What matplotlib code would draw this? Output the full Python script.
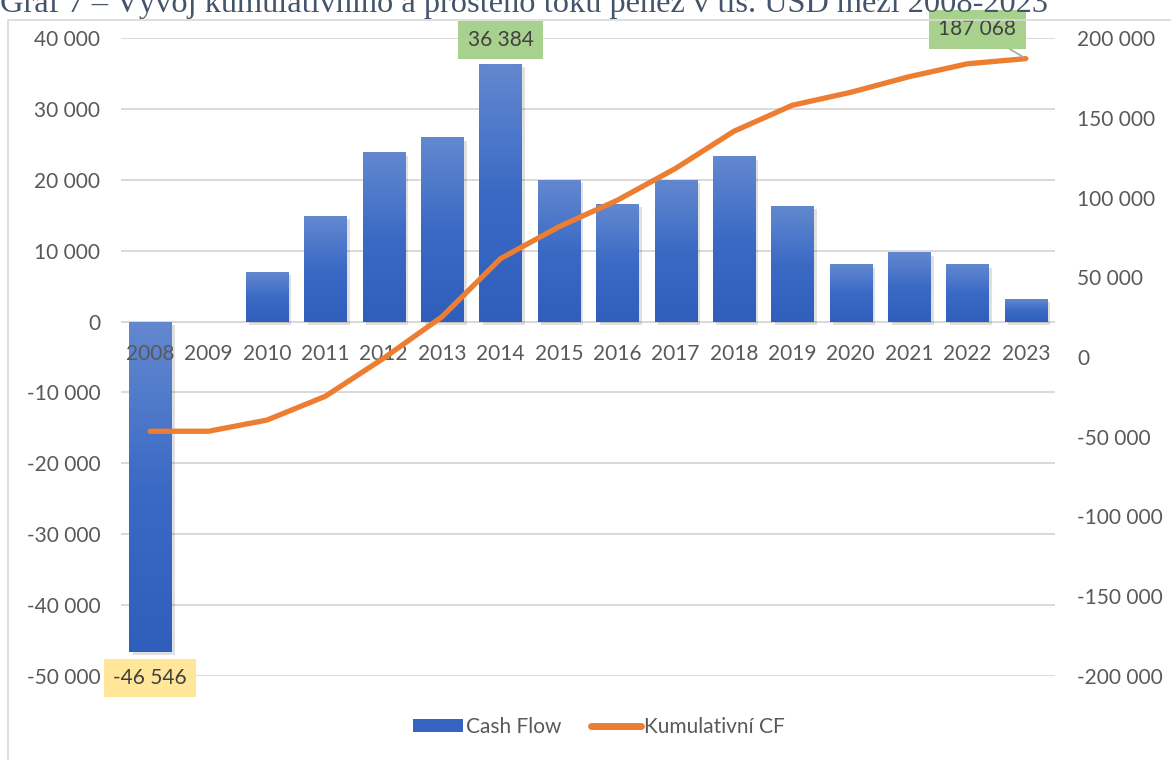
import numpy as np
import matplotlib
matplotlib.use('Agg')
import matplotlib.pyplot as plt
import matplotlib.patches as patches
import matplotlib.transforms as mtransforms
from matplotlib.colors import LinearSegmentedColormap
from matplotlib.lines import Line2D
from matplotlib.ticker import FuncFormatter

# data (tis. USD)
years = ['2008', '2009', '2010', '2011', '2012', '2013', '2014', '2015',
         '2016', '2017', '2018', '2019', '2020', '2021', '2022', '2023']
cash_flow = [-46546, 0, 7000, 14900, 23900, 26000, 36384, 20000,
             16600, 20000, 23300, 16300, 8100, 9800, 8100, 3230]
cumulative = np.cumsum(cash_flow)

left_ticks = [40000, 30000, 20000, 10000, 0, -10000, -20000, -30000, -40000, -50000]
right_ticks = [200000, 150000, 100000, 50000, 0, -50000, -100000, -150000, -200000]

title = 'Graf 7 – Vývoj kumulativního a prostého toku peněz v tis. USD mezi 2008-2023'

TEXT = '#595959'
GRID = '#D9D9D9'
ORANGE = '#ED7D31'
BAR_DARK = '#2F5FBB'
BAR_LIGHT = '#6388CF'
FONT = 'Lato'

plt.rcParams['font.family'] = [FONT, 'DejaVu Sans']


def fmt(v, pos=None):
    return f'{v:,.0f}'.replace(',', ' ')


fig = plt.figure(figsize=(11.71, 7.6), dpi=100, facecolor='white')

# chart frame
fig.patches.append(patches.Rectangle((8 / 1171, -0.01), 1.0, 1 - 20 / 760 + 0.01,
                                     transform=fig.transFigure, fill=False,
                                     edgecolor=GRID, linewidth=1.2, zorder=0))

# title, cut off at the top edge like in the source
fig.text(0.0, 1 - 12 / 760, title, ha='left', va='baseline',
         family='Liberation Serif', fontsize=23.3, color='#44546A')

ax = fig.add_axes([121 / 1171, 1 - 676 / 760, (1055 - 121) / 1171, (676 - 38) / 760])
ax2 = ax.twinx()

x = np.arange(len(years))
bars = ax.bar(x, cash_flow, width=0.72, color=BAR_DARK, zorder=2)

# gradient fill + soft shadow on the bars
cmap = LinearSegmentedColormap.from_list('bar', [BAR_DARK, '#3B6AC5', BAR_LIGHT])
grad = np.linspace(0, 1, 256).reshape(-1, 1)
shadow_tr = ax.transData + mtransforms.ScaledTranslation(2.5 / 72, -2.5 / 72, fig.dpi_scale_trans)
for rect in bars:
    x0, y0 = rect.get_xy()
    w, h = rect.get_width(), rect.get_height()
    if h == 0:
        continue
    lo, hi = sorted([y0, y0 + h])
    sh = patches.Rectangle((x0, lo), w, hi - lo, transform=shadow_tr,
                           facecolor='black', alpha=0.12, linewidth=0, zorder=1.8)
    ax.add_patch(sh)
    im = ax.imshow(grad, extent=[x0, x0 + w, lo, hi], aspect='auto', cmap=cmap,
                   origin='lower', zorder=2.1)
    im.set_clip_path(rect)

ax.set_xlim(-0.5, len(years) - 0.5)
ax.set_ylim(-50000, 40000)
ax.set_yticks(left_ticks)
ax.yaxis.set_major_formatter(FuncFormatter(fmt))
ax.set_xticks([])
ax.grid(axis='y', color=GRID, linewidth=1.4, zorder=0)
ax.set_axisbelow(True)
ax.tick_params(axis='y', length=0, pad=15, labelsize=15, labelcolor=TEXT)
for s in ax.spines.values():
    s.set_visible(False)

# category labels next to the zero line
for i, yr in enumerate(years):
    ax.annotate(yr, (i, 0), xytext=(0, -16), textcoords='offset points',
                ha='center', va='top', fontsize=15, color=TEXT, zorder=5)

ax2.plot(x, cumulative, color=ORANGE, linewidth=3.8,
         solid_capstyle='round', solid_joinstyle='round', zorder=3)
ax2.set_ylim(-200000, 200000)
ax2.set_yticks(right_ticks)
ax2.yaxis.set_major_formatter(FuncFormatter(fmt))
ax2.tick_params(axis='y', length=0, pad=16, labelsize=15, labelcolor=TEXT)
for s in ax2.spines.values():
    s.set_visible(False)

# data labels
ax.annotate(fmt(cash_flow[6]), (6, cash_flow[6]), xytext=(0, 17),
            textcoords='offset points', ha='center', va='center',
            fontsize=15, color='#404040', zorder=6,
            bbox=dict(boxstyle='square,pad=0.45', facecolor='#A9D18E', edgecolor='none'))
ax.annotate(fmt(cash_flow[0]), (0, cash_flow[0]), xytext=(0, -19),
            textcoords='offset points', ha='center', va='center',
            fontsize=15, color='#404040', zorder=6,
            bbox=dict(boxstyle='square,pad=0.45', facecolor='#FFE699', edgecolor='none'))
ax2.annotate(fmt(cumulative[-1]), (15, cumulative[-1]), xytext=(-35, 21),
             textcoords='offset points', ha='center', va='center',
             fontsize=15, color='#404040', zorder=6,
             bbox=dict(boxstyle='square,pad=0.45', facecolor='#A9D18E', edgecolor='none'),
             arrowprops=dict(arrowstyle='-', color='#A6A6A6', linewidth=1.2,
                             shrinkA=0, shrinkB=2))

handles = [patches.Patch(facecolor='#3565C0', edgecolor='none'),
           Line2D([0], [0], color=ORANGE, linewidth=5, solid_capstyle='round')]
fig.legend(handles, ['Cash Flow', 'Kumulativní CF'], loc='center',
           bbox_to_anchor=(599 / 1171, 1 - 727 / 760), ncol=2, frameon=False,
           fontsize=15, labelcolor=TEXT, handlelength=2.4, handleheight=0.6,
           handletextpad=0.15, columnspacing=1.4)

fig.savefig('out.png', dpi=100, facecolor='white')
